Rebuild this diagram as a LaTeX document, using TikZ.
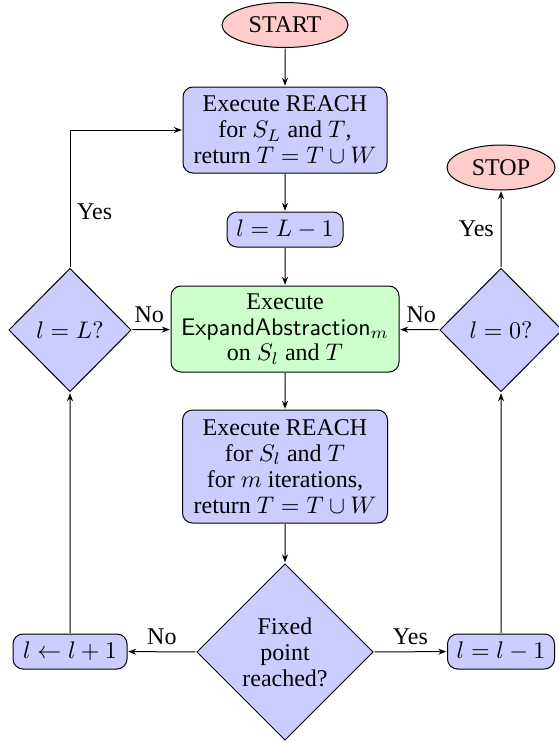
\documentclass[tikz,border=0pt]{standalone}
\usepackage{fontspec}
\setmainfont{Liberation Serif}
\usetikzlibrary{shapes.geometric,arrows.meta}
\newcommand\pxu{*0.416667pt}
\tikzset{
  proc/.style={draw, rectangle, rounded corners=10pt, fill=blue!20, align=center, inner sep=1pt},
  procg/.style={proc, fill=green!20},
  term/.style={draw, ellipse, fill=red!20, inner sep=0pt},
  dec/.style={draw, diamond, fill=blue!20, align=center, inner sep=0pt},
  lbl/.style={inner sep=2.5pt},
}
\begin{document}
\begin{tikzpicture}[x=0.416667pt,y=-0.416667pt,scale=2.4,transform shape,line width=1pt,
  >={Stealth[length=8pt,width=6pt]},
  every node/.append style={font=\fontsize{10}{10.8}\selectfont}]
\useasboundingbox (0,0) rectangle (558,743);
\node[term, minimum width=126\pxu, minimum height=45\pxu] (start) at (285,25) {START};
\node[proc, minimum width=204\pxu, minimum height=86\pxu] (r1) at (285,130) {Execute REACH\\for $S_L$ and $T$,\\return $T=T\cup W$};
\node[proc, minimum width=116\pxu, minimum height=35\pxu] (lL1) at (285,229.5) {$l=L-1$};
\node[procg, minimum width=228\pxu, minimum height=86\pxu] (green) at (285,329) {Execute\\\textsf{ExpandAbstraction}$_m$\\on $S_l$ and $T$};
\node[proc, minimum width=205\pxu, minimum height=113\pxu] (r2) at (285,466.5) {Execute REACH\\for $S_l$ and $T$\\for $m$ iterations,\\return $T=T\cup W$};
\node[dec, minimum width=177\pxu, minimum height=177\pxu] (fp) at (285,652) {Fixed\\point\\reached?};
\node[proc, minimum width=114\pxu, minimum height=35\pxu] (linc) at (70,651.5) {$l\leftarrow l+1$};
\node[proc, minimum width=107\pxu, minimum height=35\pxu] (ldec) at (501,651.5) {$l=l-1$};
\node[dec, minimum width=123\pxu, minimum height=124\pxu] (dL) at (70,330) {$l=L?$};
\node[dec, minimum width=123\pxu, minimum height=124\pxu] (d0) at (501,330) {$l=0?$};
\node[term, minimum width=108\pxu, minimum height=45\pxu] (stop) at (501,167.5) {STOP};
\draw[->] (start) -- (r1);
\draw[->] (r1) -- (lL1);
\draw[->] (lL1) -- (green);
\draw[->] (green) -- (r2);
\draw[->] (r2) -- (fp);
\draw[->] (fp) -- node[above,lbl]{No} (linc);
\draw[->] (fp) -- node[above,lbl]{Yes} (ldec);
\draw[->] (linc) -- (dL);
\draw[->] (ldec) -- (d0);
\draw[->] (dL) -- node[above,lbl,pos=0.45]{No} (green);
\draw[->] (d0) -- node[above,lbl,pos=0.45]{No} (green);
\draw[->] (dL.north) |- node[right,lbl,pos=0.2]{Yes} (r1.west);
\draw[->] (d0) -- node[left,lbl]{Yes} (stop);
\end{tikzpicture}
\end{document}
